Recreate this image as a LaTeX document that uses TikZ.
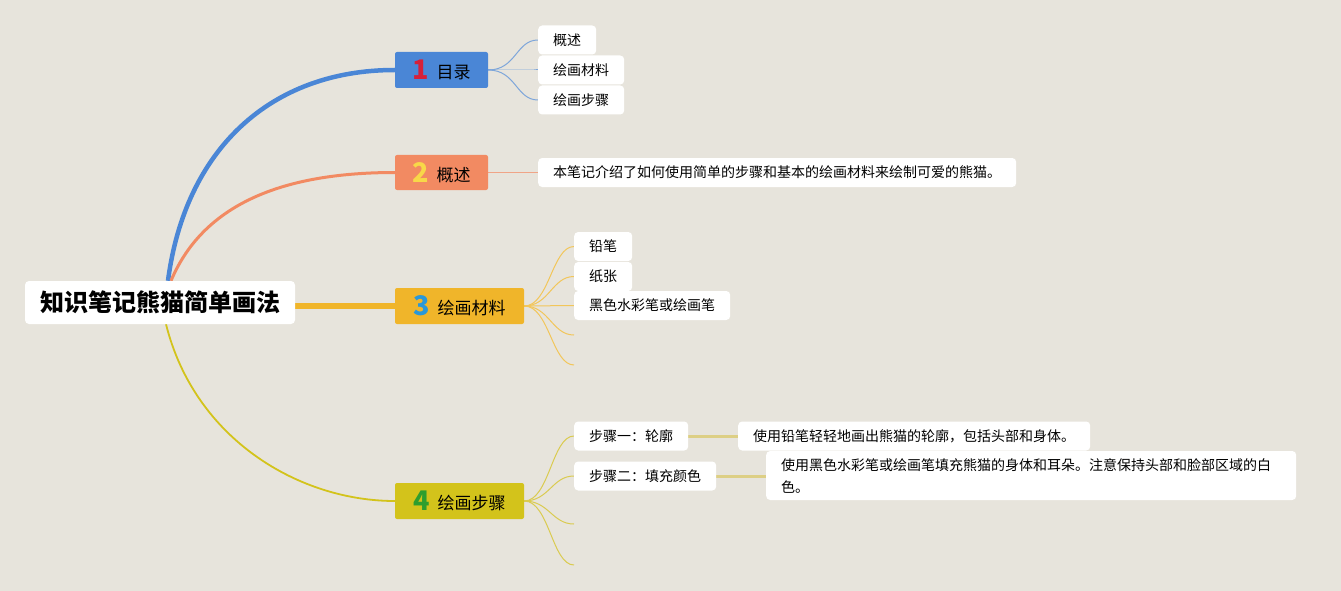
\documentclass[tikz,border=0pt]{standalone}
\usepackage{fontspec}
\setmainfont{Noto Sans CJK SC}
\usetikzlibrary{backgrounds}
\definecolor{bgc}{HTML}{E7E4DC}
\definecolor{cblue}{HTML}{4A86D6}
\definecolor{corange}{HTML}{F28A62}
\definecolor{cyellow}{HTML}{F0B52A}
\definecolor{colive}{HTML}{D3C31B}
\definecolor{nred}{HTML}{D6203A}
\definecolor{nyellow}{HTML}{F8D848}
\definecolor{nblue}{HTML}{2A98D8}
\definecolor{ngreen}{HTML}{2E9E2E}
\definecolor{lblue}{HTML}{7EA6DA}
\definecolor{lorange}{HTML}{F0A487}
\definecolor{lyellow}{HTML}{F2C65A}
\definecolor{lolive}{HTML}{DACB50}
\definecolor{lthick}{HTML}{DDCF85}
\newcommand{\tnum}[2]{\raisebox{-1pt}{\fontsize{27}{27}\selectfont\bfseries\color{#1}#2}\hspace{8pt}}
\tikzset{
  rootbox/.style={fill=white, rounded corners=4pt, minimum width=270pt, minimum height=43pt,
    font=\fontsize{24}{26}\selectfont\bfseries, inner sep=0pt},
  topicbox/.style={rounded corners=2pt, minimum height=36pt, inner sep=0pt,
    font=\fontsize{17}{20}\selectfont},
  leafbox/.style={fill=white, rounded corners=4pt, minimum height=29pt, inner xsep=15pt,
    inner ysep=0pt, anchor=west, font=\fontsize{14}{17}\selectfont},
  subline/.style={line width=1pt},
}
\begin{document}
\begin{tikzpicture}[x=1pt,y=-1pt]
\useasboundingbox (0,0) rectangle (1341,591);

% root
\node[rootbox] (root) at (160,302.5) {知识笔记熊猫简单画法};

% topics
\node[topicbox, fill=cblue, minimum width=93pt] (t1) at (441.5,70) {\tnum{nred}{1}目录};
\node[topicbox, fill=corange, minimum width=93pt, minimum height=35pt] (t2) at (441.5,172.5) {\tnum{nyellow}{2}概述};
\node[topicbox, fill=cyellow, minimum width=129pt] (t3) at (459.5,306) {\tnum{nblue}{3}绘画材料};
\node[topicbox, fill=colive, minimum width=129pt] (t4) at (459.5,501) {\tnum{ngreen}{4}绘画步骤};

% topic 1 leaves
\node[leafbox] (s11) at (538,40) {概述};
\node[leafbox] (s12) at (538,70) {绘画材料};
\node[leafbox] (s13) at (538,100) {绘画步骤};

% topic 2 leaf
\node[leafbox] (s21) at (538,172.5) {本笔记介绍了如何使用简单的步骤和基本的绘画材料来绘制可爱的熊猫。};

% topic 3 leaves
\node[leafbox] (s31) at (574,246.5) {铅笔};
\node[leafbox] (s32) at (574,276.5) {纸张};
\node[leafbox] (s33) at (574,305.5) {黑色水彩笔或绘画笔};
\coordinate (e31) at (574,335);
\coordinate (e32) at (574,365);

% topic 4 leaves
\node[leafbox] (s41) at (574,436) {步骤一：轮廓};
\node[leafbox] (s42) at (574,476) {步骤二：填充颜色};
\coordinate (e41) at (574,524);
\coordinate (e42) at (574,565);
\node[leafbox, minimum width=351pt] (d41) at (738,436) {使用铅笔轻轻地画出熊猫的轮廓，包括头部和身体。\hfill};
\node[leafbox, text width=500pt, minimum height=49pt, align=left,
  font=\fontsize{14}{22}\selectfont] (d42) at (766,475.5)
  {使用黑色水彩笔或绘画笔填充熊猫的身体和耳朵。注意保持头部和脸部区域的白\\色。};

\begin{scope}[on background layer]
\fill[bgc] (0,0) rectangle (1341,591);
% main branches
\draw[cblue, line width=4.5pt] ([xshift=8pt]root.north) .. controls (185,150) and (270,70) .. (t1.west);
\draw[corange, line width=3pt] ([xshift=11pt]root.north) .. controls (205,200) and (290,172.5) .. (t2.west);
\draw[cyellow, line width=5.5pt] (root.east |- t3.west) -- (t3.west);
\draw[colive, line width=1.8pt] ([xshift=6pt]root.south) .. controls (195,440) and (300,501) .. (t4.west);

% topic 1 sublines
\foreach \n in {s11,s12,s13}
  \draw[lblue, subline] (t1.east) .. controls +(28,0) and +(-22,0) .. (\n.west);
% topic 2
\draw[lorange, line width=1.3pt] (t2.east) -- (s21.west);
% topic 3
\foreach \n in {s31.west,s32.west,s33.west,e31,e32}
  \draw[lyellow, subline] (t3.east) .. controls +(25,0) and +(-22,0) .. (\n);
% topic 4
\foreach \n in {s41.west,s42.west,e41,e42}
  \draw[lolive, subline] (t4.east) .. controls +(25,0) and +(-22,0) .. (\n);
\draw[lthick, line width=3pt] (s41.east) -- (d41.west);
\draw[lthick, line width=3pt] (s42.east) -- (d42.west |- s42.east);
\end{scope}
\end{tikzpicture}
\end{document}
